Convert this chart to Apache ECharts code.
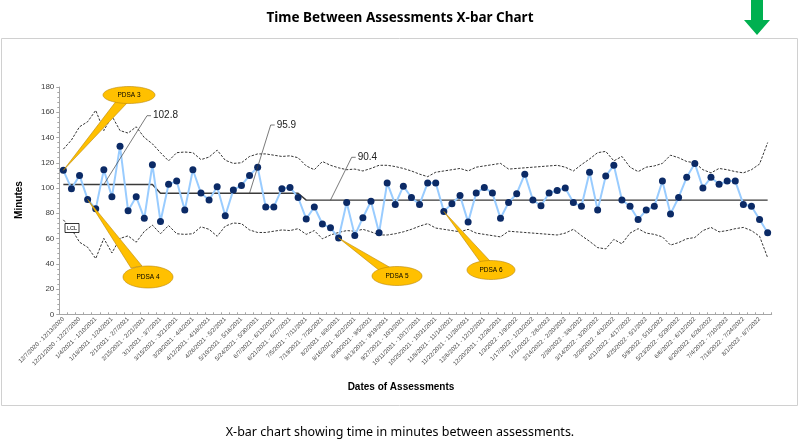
<!DOCTYPE html>
<html><head><meta charset="utf-8">
<script src="https://cdn.jsdelivr.net/npm/echarts@6/dist/echarts.min.js"></script>
<style>html,body{margin:0;padding:0;background:#fff}#c{width:800px;height:441px}</style>
</head><body><div id="c"></div>
<script>
const categories = [
"12/7/2020 - 12/13/2020","12/14/2020 - 12/20/2020","12/21/2020 - 12/27/2020","12/28/2020 - 1/3/2021",
"1/4/2021 - 1/10/2021","1/11/2021 - 1/17/2021","1/18/2021 - 1/24/2021","1/25/2021 - 1/31/2021",
"2/1/2021 - 2/7/2021","2/8/2021 - 2/14/2021","2/15/2021 - 2/21/2021","2/22/2021 - 2/28/2021",
"3/1/2021 - 3/7/2021","3/8/2021 - 3/14/2021","3/15/2021 - 3/21/2021","3/22/2021 - 3/28/2021",
"3/29/2021 - 4/4/2021","4/5/2021 - 4/11/2021","4/12/2021 - 4/18/2021","4/19/2021 - 4/25/2021",
"4/26/2021 - 5/2/2021","5/3/2021 - 5/9/2021","5/10/2021 - 5/16/2021","5/17/2021 - 5/23/2021",
"5/24/2021 - 5/30/2021","5/31/2021 - 6/6/2021","6/7/2021 - 6/13/2021","6/14/2021 - 6/20/2021",
"6/21/2021 - 6/27/2021","6/28/2021 - 7/4/2021","7/5/2021 - 7/11/2021","7/12/2021 - 7/18/2021",
"7/19/2021 - 7/25/2021","7/26/2021 - 8/1/2021","8/2/2021 - 8/8/2021","8/9/2021 - 8/15/2021",
"8/16/2021 - 8/22/2021","8/23/2021 - 8/29/2021","8/30/2021 - 9/5/2021","9/6/2021 - 9/12/2021",
"9/13/2021 - 9/19/2021","9/20/2021 - 9/26/2021","9/27/2021 - 10/3/2021","10/4/2021 - 10/10/2021",
"10/11/2021 - 10/17/2021","10/18/2021 - 10/24/2021","10/25/2021 - 10/31/2021","11/1/2021 - 11/7/2021",
"11/8/2021 - 11/14/2021","11/15/2021 - 11/21/2021","11/22/2021 - 11/28/2021","11/29/2021 - 12/5/2021",
"12/6/2021 - 12/12/2021","12/13/2021 - 12/19/2021","12/20/2021 - 12/26/2021","12/27/2021 - 1/2/2022",
"1/3/2022 - 1/9/2022","1/10/2022 - 1/16/2022","1/17/2022 - 1/23/2022","1/24/2022 - 1/30/2022",
"1/31/2022 - 2/6/2022","2/7/2022 - 2/13/2022","2/14/2022 - 2/20/2022","2/21/2022 - 2/27/2022",
"2/28/2022 - 3/6/2022","3/7/2022 - 3/13/2022","3/14/2022 - 3/20/2022","3/21/2022 - 3/27/2022",
"3/28/2022 - 4/3/2022","4/4/2022 - 4/10/2022","4/11/2022 - 4/17/2022","4/18/2022 - 4/24/2022",
"4/25/2022 - 5/1/2022","5/2/2022 - 5/8/2022","5/9/2022 - 5/15/2022","5/16/2022 - 5/22/2022",
"5/23/2022 - 5/29/2022","5/30/2022 - 6/5/2022","6/6/2022 - 6/12/2022","6/13/2022 - 6/19/2022",
"6/20/2022 - 6/26/2022","6/27/2022 - 7/3/2022","7/4/2022 - 7/10/2022","7/11/2022 - 7/17/2022",
"7/18/2022 - 7/24/2022","7/25/2022 - 7/31/2022","8/1/2022 - 8/7/2022","8/8/2022 - 8/14/2022"
];

const minutes = [
114,99.5,110,91,83.5,114.5,93,133,82,93,76,118.5,
73.5,103,105.5,82.5,114.5,96,90.5,101,78,98.5,102,110,
116.5,85,85,99.5,100.5,92.5,75.5,85,71.5,68.5,60.5,88.5,
62.5,76.5,89.5,64.5,104,87,101.5,92.5,87,104,104,81.5,
87.5,94,73,96,100.5,96,76,88.5,95.5,111,90.5,86,
96,98,100,88.5,85.5,112.5,82.5,109.5,118,90.5,85.5,75,
82.5,85.5,105.5,79.5,92.5,108.5,119.5,100,108.5,103,105.5,105.5,
87,85.5,75,64.5
];

const centerLine = [
102.8,102.8,102.8,102.8,102.8,102.8,102.8,102.8,102.8,102.8,102.8,102.8,
95.9,95.9,95.9,95.9,95.9,95.9,95.9,95.9,95.9,95.9,95.9,95.9,95.9,95.9,95.9,95.9,95.9,95.9,
90.4,90.4,90.4,90.4,90.4,90.4,90.4,90.4,90.4,90.4,90.4,90.4,90.4,90.4,90.4,90.4,90.4,90.4,
90.4,90.4,90.4,90.4,90.4,90.4,90.4,90.4,90.4,90.4,90.4,90.4,90.4,90.4,90.4,90.4,90.4,90.4,
90.4,90.4,90.4,90.4,90.4,90.4,90.4,90.4,90.4,90.4,90.4,90.4,90.4,90.4,90.4,90.4,90.4,90.4,
90.4,90.4,90.4,90.4
];

const upperLimit = [
130.8,138,148.5,152.5,161.5,145.5,157,145.5,143.5,148.5,140,135,
128,121.5,128,128.5,128,122.5,124.5,130,122,119.5,120,125,
127,127,126,125,125.5,124,117.5,114.5,121,118,116,114.5,
115,113.5,115.5,118,118,117,115.5,113.5,111,109,112.5,113.5,
114.5,115.5,113.5,116.5,117.5,118.5,119.5,115,115.5,116,116.5,117,
117.5,118,116.5,113.5,118.5,123,128,129,121.5,125,116.5,113,
116.5,117.5,119.5,126,124,121,120,114.5,112,115.5,114.5,113,
112,114.5,119,136
];

const lowerLimit = [
74.8,67.6,57.1,53.1,44.1,60.1,48.6,60.1,62.1,57.1,65.6,70.6,
63.8,70.3,63.8,63.3,63.8,69.3,67.3,61.8,69.8,72.3,71.8,66.8,
64.8,64.8,65.8,66.8,66.3,67.8,63.3,66.3,59.8,62.8,64.8,66.3,
65.8,67.3,65.3,62.8,62.8,63.8,65.3,67.3,69.8,71.8,68.3,67.3,
66.3,65.3,67.3,64.3,63.3,62.3,61.3,65.8,65.3,64.8,64.3,63.8,
63.3,62.8,64.3,67.3,62.3,57.8,52.8,51.8,59.3,55.8,64.3,67.8,
64.3,63.3,61.3,54.8,56.8,59.8,60.8,66.3,68.8,65.3,66.3,67.8,
68.8,66.3,61.8,44.8
];

// annotation definitions (which point / centre-line value they refer to)
const pdsaCallouts = [
  { text: 'PDSA 3', pointIndex: 0,  ellipse: [129, 95, 26, 8.5],  base: [[117, 100], [128, 102]] },
  { text: 'PDSA 4', pointIndex: 3,  ellipse: [148, 277, 25, 11],  base: [[131, 268], [142, 266]] },
  { text: 'PDSA 5', pointIndex: 34, ellipse: [397, 276, 25, 9.5], base: [[380, 271], [391, 268]] },
  { text: 'PDSA 6', pointIndex: 47, ellipse: [491, 270, 24, 9.5], base: [[481, 263], [490, 261]] }
];
const clLabels = [
  { text: '102.8', index: 5,  value: 102.8, end: [147, 115.7] },
  { text: '95.9',  index: 23, value: 95.9,  end: [270.7, 125] },
  { text: '90.4',  index: 33, value: 90.4,  end: [351.7, 157.3] }
];

const FONT = '"Liberation Sans", Arial, sans-serif';
const chart = echarts.init(document.getElementById('c'), null, { renderer: 'canvas' });

chart.setOption({
  backgroundColor: '#ffffff',
  animation: false,
  grid: { left: 59.3, right: 28.3, top: 87, bottom: 126.7, containLabel: false },
  xAxis: {
    type: 'category',
    data: categories,
    boundaryGap: true,
    axisLine: { show: true, lineStyle: { color: '#A6A6A6', width: 1 } },
    axisTick: { show: true, interval: 0, length: 2, inside: true, lineStyle: { color: '#A6A6A6' } },
    axisLabel: { interval: 1, rotate: 45, fontSize: 6, color: '#404040', fontFamily: FONT, margin: 4 }
  },
  yAxis: {
    type: 'value',
    min: 0, max: 180, interval: 20,
    axisLine: { show: true, lineStyle: { color: '#A6A6A6', width: 1 } },
    axisTick: { show: true, length: 3, lineStyle: { color: '#A6A6A6' } },
    minorTick: { show: true, splitNumber: 5, length: 2, lineStyle: { color: '#A6A6A6' } },
    splitLine: { show: false },
    axisLabel: { fontSize: 8, color: '#404040', fontFamily: FONT, margin: 5 }
  },
  series: [
    { name: 'UCL', type: 'line', data: upperLimit, showSymbol: false, symbol: 'none',
      lineStyle: { color: '#000', width: 0.8, type: [2.5, 1.5] }, z: 2 },
    { name: 'LCL', type: 'line', data: lowerLimit, showSymbol: false, symbol: 'none',
      lineStyle: { color: '#000', width: 0.8, type: [2.5, 1.5] }, z: 2 },
    { name: 'CL', type: 'line', data: centerLine, showSymbol: false, symbol: 'none',
      lineStyle: { color: '#3a3a3a', width: 1.4 }, z: 3 },
    { name: 'Minutes', type: 'line', data: minutes, symbol: 'circle', symbolSize: 7,
      showSymbol: true, showAllSymbol: true,
      itemStyle: { color: '#0B2A66' }, lineStyle: { color: '#99CCFF', width: 2 }, z: 5 }
  ]
});

const px = (i, v) => chart.convertToPixel({ xAxisIndex: 0, yAxisIndex: 0 }, [i, v]);
const graphics = [];

// chart frame
graphics.push({ type: 'rect', shape: { x: 1.5, y: 38.5, width: 796, height: 367 },
  style: { fill: 'none', stroke: '#D0D0D0', lineWidth: 1 }, z: 0, silent: true });
// title
graphics.push({ type: 'text', style: { text: 'Time Between Assessments X-bar Chart', x: 400, y: 18,
  font: 'bold 13.5px "Noto Sans", sans-serif', fill: '#000', align: 'center', verticalAlign: 'middle',
  textAlign: 'center', textVerticalAlign: 'middle' }, z: 20 });
// caption
graphics.push({ type: 'text', style: { text: 'X-bar chart showing time in minutes between assessments.', x: 400, y: 432,
  font: '12.5px "Noto Sans", sans-serif', fill: '#000', align: 'center', verticalAlign: 'middle',
  textAlign: 'center', textVerticalAlign: 'middle' }, z: 20 });
// axis titles
graphics.push({ type: 'text', style: { text: 'Dates of Assessments', x: 401, y: 387,
  font: 'bold 10px ' + FONT, fill: '#000', align: 'center', verticalAlign: 'middle',
  textAlign: 'center', textVerticalAlign: 'middle' }, z: 20 });
graphics.push({ type: 'text', x: 19, y: 200, rotation: Math.PI / 2,
  style: { text: 'Minutes', x: 0, y: 0, font: 'bold 10px ' + FONT, fill: '#000', align: 'center', verticalAlign: 'middle',
  textAlign: 'center', textVerticalAlign: 'middle' }, z: 20 });
// green arrow
graphics.push({ type: 'polygon', shape: { points: [[751, 0], [763, 0], [763, 20], [770, 20], [757, 35], [744, 20], [751, 20]] },
  style: { fill: '#00B050', stroke: 'none' }, z: 20 });
// LCL tag
graphics.push({ type: 'rect', shape: { x: 65, y: 223.5, width: 14, height: 9 },
  style: { fill: '#fff', stroke: '#000', lineWidth: 0.8 }, z: 20 });
graphics.push({ type: 'text', style: { text: 'LCL', x: 72, y: 228.2, font: '5.5px ' + FONT, fill: '#000',
  align: 'center', verticalAlign: 'middle', textAlign: 'center', textVerticalAlign: 'middle' }, z: 21 });

// centre-line value labels with leader lines
clLabels.forEach(l => {
  const p = px(l.index, l.value);
  graphics.push({ type: 'polyline', shape: { points: [p, l.end, [l.end[0] + 4, l.end[1]]] },
    style: { stroke: '#404040', lineWidth: 0.7, fill: 'none' }, z: 15 });
  graphics.push({ type: 'text', style: { text: l.text, x: l.end[0] + 6, y: l.end[1], font: '10px ' + FONT, fill: '#222',
    align: 'left', verticalAlign: 'middle', textAlign: 'left', textVerticalAlign: 'middle' }, z: 15 });
});

// PDSA callouts
pdsaCallouts.forEach(c => {
  const tip = px(c.pointIndex, minutes[c.pointIndex]);
  graphics.push({ type: 'polygon', shape: { points: [c.base[0], c.base[1], tip] },
    style: { fill: '#FFC000', stroke: '#B8860B', lineWidth: 0.6 }, z: 16 });
  graphics.push({ type: 'ellipse', shape: { cx: c.ellipse[0], cy: c.ellipse[1], rx: c.ellipse[2], ry: c.ellipse[3] },
    style: { fill: '#FFC000', stroke: '#B8860B', lineWidth: 0.6 }, z: 17 });
  graphics.push({ type: 'text', style: { text: c.text, x: c.ellipse[0], y: c.ellipse[1], font: '6.5px ' + FONT, fill: '#000',
    align: 'center', verticalAlign: 'middle', textAlign: 'center', textVerticalAlign: 'middle' }, z: 18 });
});

chart.setOption({ graphic: graphics });
</script>
</body></html>
